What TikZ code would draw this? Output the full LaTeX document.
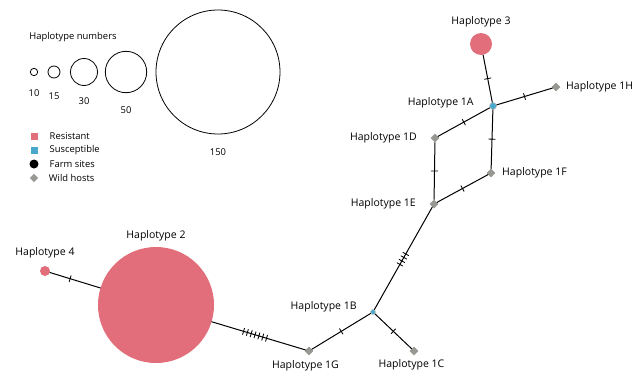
\documentclass[tikz,border=0pt]{standalone}
\usepackage{fontspec}
\setmainfont{Open Sans}
\usetikzlibrary{shapes.geometric,decorations.markings}
\definecolor{resist}{RGB}{225,110,122}
\definecolor{suscept}{RGB}{72,168,204}
\definecolor{wild}{RGB}{152,152,146}

\begin{document}
\begin{tikzpicture}[x=1pt,y=-1pt,line cap=round,line join=round,
  lbl/.style={font=\fontsize{10.5}{12}\selectfont},
  key/.style={font=\fontsize{9.4}{11}\selectfont},
  farm/.style={circle,fill=resist,inner sep=0pt,minimum size=#1},
  sizekey/.style={circle,draw,line width=0.8pt,inner sep=0pt,minimum size=#1},
  wildhost/.style={diamond,fill=wild,inner sep=0pt,minimum size=9pt},
  suscnode/.style={circle,fill=suscept,draw=wild!55,line width=0.7pt,inner sep=0pt,minimum size=#1},
  keyentry/.style={inner sep=0pt,minimum size=7pt},
  link/.style={line width=1pt},
  mut/.style={postaction={decorate,decoration={markings,
      mark=at position #1 with {\draw[line width=0.85pt] (0,-3.2pt) -- (0,3.2pt);}}}},
  mutrun/.style n args={2}{postaction={decorate,decoration={markings,
      mark=between positions #1 and #2 step 4pt with {\draw[line width=0.85pt] (0,-3.2pt) -- (0,3.2pt);}}}}]
  \useasboundingbox (0,0) rectangle (634,372);

  % legend
  \node[key] (keytitle) at (73,37) {Haplotype numbers};
  \foreach \n/\x/\dia/\dist in {10/34/7.4pt/10pt,15/54/12pt/10.5pt,30/84/27pt/8pt,50/126/41.4pt/10pt,150/218/124pt/10.5pt}
    \node[sizekey=\dia,label={[key,label distance=\dist]below:\n}] (size\n) at (\x,72) {};
  \node[keyentry,fill=resist,label={[key,label distance=8.5pt]right:Resistant}] (keyres) at (34,136) {};
  \node[keyentry,fill=suscept,label={[key,label distance=8.5pt]right:Susceptible}] (keysus) at (34,150) {};
  \node[keyentry,circle,fill=black,minimum size=9pt,label={[key,label distance=7.5pt]right:Farm sites}] (keyfarm) at (34,164) {};
  \node[keyentry,diamond,fill=wild,minimum size=8.5pt,label={[key,label distance=7pt]right:Wild hosts}] (keywild) at (34,178) {};

  % haplotypes
  \node[farm=116pt,label={[lbl,label distance=2.5pt]above:Haplotype 2}] (h2) at (156,305) {};
  \node[farm=10pt,label={[lbl,label distance=4.5pt]above:Haplotype 4}] (h4) at (45,271) {};
  \node[farm=22pt,label={[lbl,label distance=2.5pt]above:Haplotype 3}] (h3) at (481,44) {};
  \node[wildhost,label={[lbl,label distance=1.5pt,xshift=-3.5pt]below:Haplotype 1G}] (h1G) at (309,351) {};
  \node[suscnode=5pt,label={[lbl,label distance=10pt,yshift=5pt]left:Haplotype 1B}] (h1B) at (373,312) {};
  \node[wildhost,label={[lbl,label distance=0pt,xshift=-2.5pt]below:Haplotype 1C}] (h1C) at (414,351) {};
  \node[wildhost,label={[lbl,label distance=10pt]left:Haplotype 1E}] (h1E) at (434,204) {};
  \node[wildhost,label={[lbl,label distance=10pt]left:Haplotype 1D}] (h1D) at (435,138) {};
  \node[wildhost,label={[lbl,label distance=3pt]right:Haplotype 1F}] (h1F) at (491,173) {};
  \node[suscnode=7pt,label={[lbl,label distance=12pt,yshift=3pt]left:Haplotype 1A}] (h1A) at (493,106) {};
  \node[wildhost,label={[lbl,label distance=2pt]right:Haplotype 1H}] (h1H) at (556,87) {};

  % mutational steps
  \draw[link,mut=0.4] (h4) -- (h2);
  \draw[link,mutrun={0.34}{0.6}] (h2) -- (h1G);
  \draw[link,mut=0.5] (h1G) -- (h1B);
  \draw[link,mut=0.5] (h1B) -- (h1C);
  \draw[link,mutrun={0.44}{0.56}] (h1B) -- (h1E);
  \draw[link,mut=0.5] (h1E) -- (h1D);
  \draw[link,mut=0.5] (h1E) -- (h1F);
  \draw[link,mut=0.5] (h1D) -- (h1A);
  \draw[link,mut=0.5] (h1F) -- (h1A);
  \draw[link,mut=0.5] (h3) -- (h1A);
  \draw[link,mut=0.5] (h1A) -- (h1H);
\end{tikzpicture}
\end{document}
